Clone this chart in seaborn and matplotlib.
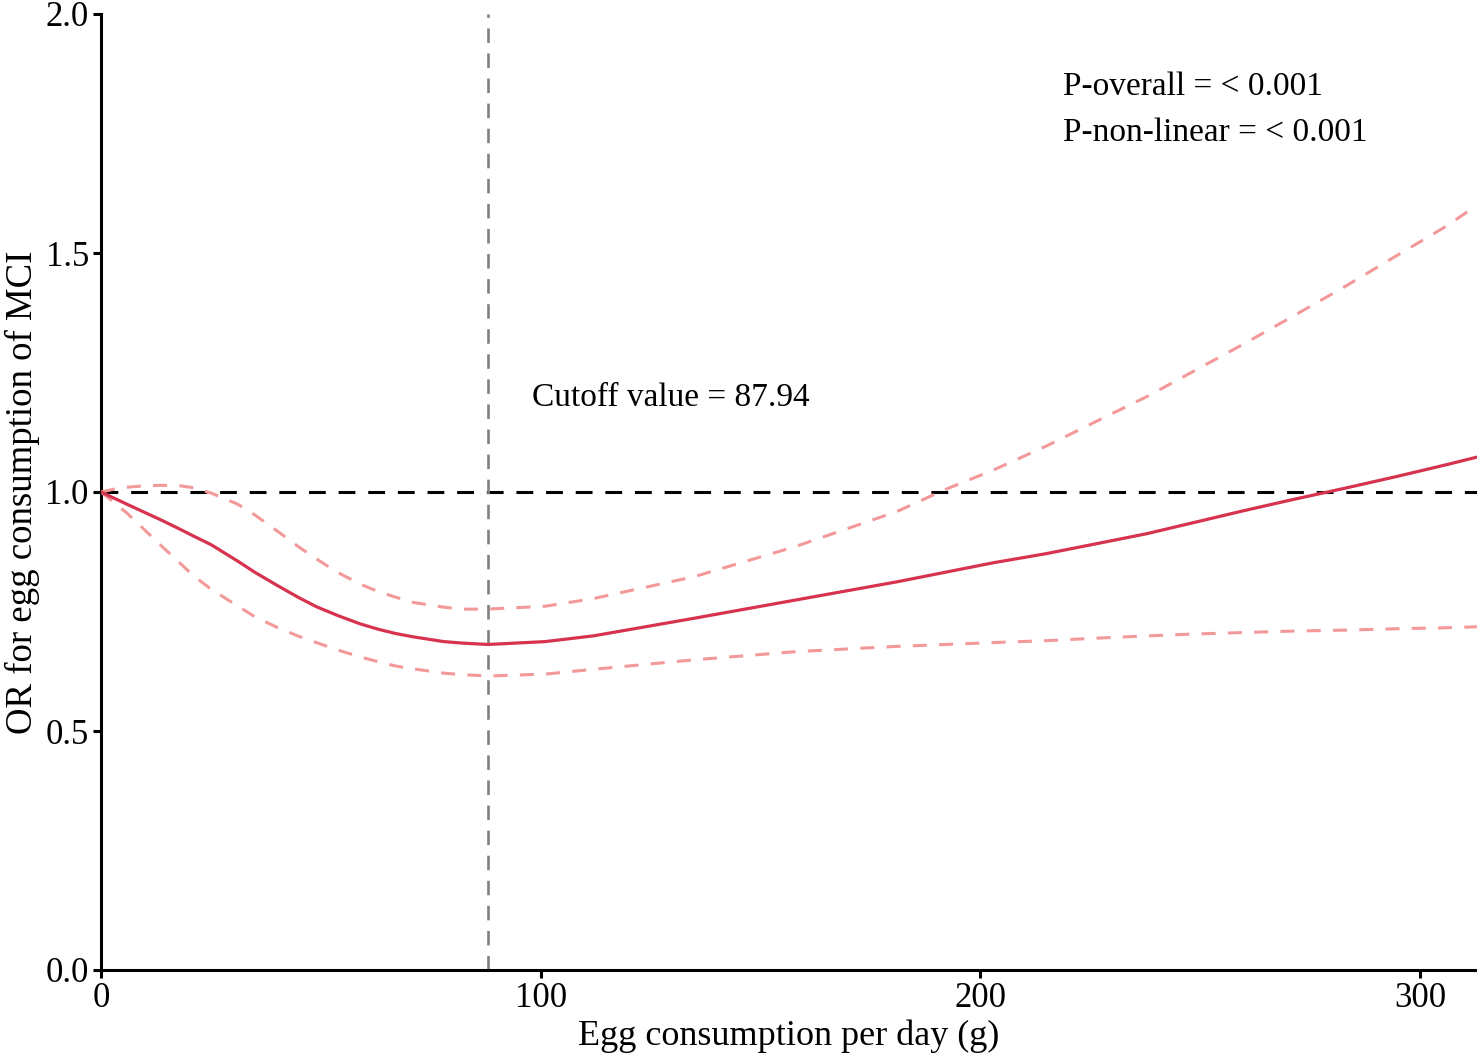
import matplotlib
matplotlib.use("Agg")
import matplotlib.pyplot as plt
import seaborn as sns
import pandas as pd

# ---- data ----
egg_g = [0, 3, 6, 10, 14, 18, 21, 25, 31, 35, 40, 45, 49, 54, 59, 63, 67, 71, 78, 82,
         88, 101, 112, 135, 158, 181, 192, 203, 215, 226, 238, 249, 260, 271, 283,
         295, 306, 313]
or_est = [1.000, 0.987, 0.974, 0.957, 0.940, 0.922, 0.908, 0.890, 0.856, 0.832,
          0.805, 0.779, 0.760, 0.741, 0.724, 0.713, 0.704, 0.697, 0.687, 0.684,
          0.681, 0.687, 0.699, 0.736, 0.774, 0.812, 0.832, 0.852, 0.871, 0.891,
          0.913, 0.937, 0.961, 0.984, 1.008, 1.033, 1.057, 1.073]
or_upper = [1.000, 1.006, 1.010, 1.013, 1.014, 1.013, 1.009, 0.998, 0.975, 0.952,
            0.919, 0.885, 0.860, 0.831, 0.807, 0.792, 0.780, 0.769, 0.759, 0.755,
            0.755, 0.761, 0.777, 0.823, 0.886, 0.959, 1.005, 1.046, 1.096, 1.146,
            1.200, 1.255, 1.310, 1.367, 1.430, 1.496, 1.556, 1.600]
or_lower = [1.000, 0.978, 0.955, 0.920, 0.885, 0.851, 0.825, 0.797, 0.762, 0.739,
            0.717, 0.698, 0.685, 0.669, 0.655, 0.645, 0.636, 0.630, 0.621, 0.618,
            0.615, 0.619, 0.629, 0.649, 0.666, 0.677, 0.681, 0.685, 0.689, 0.694,
            0.699, 0.703, 0.706, 0.709, 0.711, 0.714, 0.716, 0.718]
cutoff = 87.94
ref_or = 1.0
x_ticks = [0, 100, 200, 300]
y_ticks = [0.0, 0.5, 1.0, 1.5, 2.0]
x_label = "Egg consumption per day (g)"
y_label = "OR for egg consumption of MCI"
cutoff_text = "Cutoff value = 87.94"
p_texts = ["P-overall = < 0.001", "P-non-linear = < 0.001"]

df = pd.DataFrame({"x": egg_g, "est": or_est, "upper": or_upper, "lower": or_lower})

sns.set_theme(style="ticks")
plt.rcParams["font.family"] = ["Liberation Serif", "DejaVu Serif"]

fig = plt.figure(figsize=(14.77, 10.58), dpi=100)
ax = fig.add_axes([101 / 1477, 88 / 1058, 1 - 101 / 1477, (970 - 14) / 1058])

ci_col = "#F4999A"
est_col = "#D7334F"

sns.lineplot(data=df, x="x", y="upper", ax=ax, color=ci_col, lw=2.2,
             linestyle=(0, (4.6, 4.0)), zorder=3)
sns.lineplot(data=df, x="x", y="lower", ax=ax, color=ci_col, lw=2.2,
             linestyle=(0, (4.6, 4.0)), zorder=3)
ax.axhline(ref_or, color="black", lw=2.2, linestyle=(0, (5.5, 4.2)), zorder=2)
ax.axvline(cutoff, color="#808080", lw=1.9, linestyle=(0, (5.5, 4.0)), zorder=2)
sns.lineplot(data=df, x="x", y="est", ax=ax, color=est_col, lw=2.3, zorder=4)

ax.set_xlim(0, 313)
ax.set_ylim(0, 2.0)
ax.set_xticks(x_ticks)
ax.set_yticks(y_ticks)
ax.set_yticklabels([f"{v:.1f}" for v in y_ticks])
ax.tick_params(axis="both", labelsize=25, length=5.8, width=2.2, color="black",
               labelcolor="black", pad=3)
ax.set_xlabel(x_label, fontsize=26, color="black", labelpad=3)
ax.set_ylabel(y_label, fontsize=26.5, color="black", labelpad=4)

for side in ["top", "right"]:
    ax.spines[side].set_visible(False)
for side in ["left", "bottom"]:
    ax.spines[side].set_linewidth(2.2)
    ax.spines[side].set_color("black")

ax.text(98.0, 1.197, cutoff_text, fontsize=24, va="center", ha="left", color="black")
ax.text(218.9, 1.847, p_texts[0], fontsize=24, va="center", ha="left", color="black")
ax.text(218.9, 1.751, p_texts[1], fontsize=24, va="center", ha="left", color="black")

fig.savefig("out.png", dpi=100, facecolor="white")
